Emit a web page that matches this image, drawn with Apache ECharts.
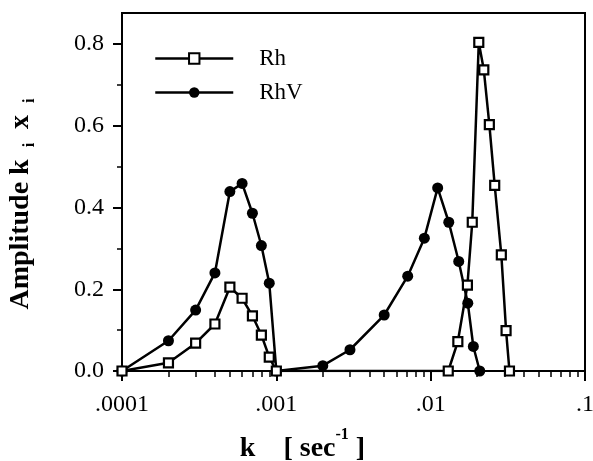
<!DOCTYPE html>
<html><head><meta charset="utf-8">
<script src="https://cdn.jsdelivr.net/npm/echarts@6/dist/echarts.min.js"></script>
<style>html,body{margin:0;padding:0;background:#fff}#c{width:593px;height:461px}</style>
</head><body><div id="c"></div>
<script>
// ---- data ----
const rhK   = [0.0001, 0.0002, 0.0003, 0.0004, 0.0005, 0.0006, 0.0007, 0.0008, 0.0009, 0.001,
               0.013, 0.015, 0.0173, 0.0186, 0.0205, 0.0221, 0.024, 0.026, 0.0287, 0.0308, 0.0324];
const rhAmp = [0, 0.02, 0.068, 0.115, 0.205, 0.178, 0.135, 0.088, 0.034, 0,
               0, 0.072, 0.21, 0.364, 0.804, 0.737, 0.603, 0.454, 0.284, 0.099, 0];
const rhvK   = [0.0001, 0.0002, 0.0003, 0.0004, 0.0005, 0.0006, 0.0007, 0.0008, 0.0009, 0.001,
                0.002, 0.003, 0.005, 0.0071, 0.0091, 0.0111, 0.0131, 0.0152, 0.0174, 0.0189, 0.0208];
const rhvAmp = [0, 0.074, 0.149, 0.24, 0.439, 0.459, 0.386, 0.307, 0.215, 0,
                0.013, 0.052, 0.137, 0.232, 0.325, 0.448, 0.364, 0.268, 0.166, 0.06, 0];
const seriesNames = ['Rh', 'RhV'];

const xMajorTicks  = [0.0001, 0.001, 0.01, 0.1];
const xMajorLabels = ['.0001', '.001', '.01', '.1'];
const xMinorTicks  = [0.0002, 0.0003, 0.0004, 0.0005, 0.0006, 0.0007, 0.0008, 0.0009,
                      0.002, 0.003, 0.004, 0.005, 0.006, 0.007, 0.008, 0.009,
                      0.02, 0.03, 0.04, 0.05, 0.06, 0.07, 0.08, 0.09];
const yMajorTicks  = [0, 0.2, 0.4, 0.6, 0.8];
const yMajorLabels = ['0.0', '0.2', '0.4', '0.6', '0.8'];
const yMinorTicks  = [0.1, 0.3, 0.5, 0.7];

// ---- chart ----
const FONT = 'Liberation Serif';
const pairs = (xs, ys) => xs.map((x, i) => [x, ys[i]]);
const xLabel = v => {
  const i = xMajorTicks.findIndex(t => Math.abs(Math.log10(t) - Math.log10(v)) < 1e-6);
  return i >= 0 ? xMajorLabels[i] : '';
};
const yLabel = v => {
  const i = yMajorTicks.findIndex(t => Math.abs(t - v) < 1e-6);
  return i >= 0 ? yMajorLabels[i] : '';
};

const chart = echarts.init(document.getElementById('c'), null, {renderer: 'canvas'});
chart.setOption({
  animation: false,
  backgroundColor: '#fff',
  grid: {left: 122, right: 8, top: 13, bottom: 90, containLabel: false, outerBoundsMode: 'none',
         show: true, borderColor: '#000', borderWidth: 2, backgroundColor: 'transparent'},
  legend: {
    orient: 'vertical', left: 154, top: 47, padding: 0,
    itemWidth: 78, itemHeight: 13, itemGap: 11,
    data: seriesNames,
    lineStyle: {width: 2.5},
    textStyle: {fontFamily: FONT, fontSize: 23, color: '#000', lineHeight: 22, padding: [0, 0, 0, 21]}
  },
  xAxis: [{
    type: 'log', logBase: 10, min: 0.0001, max: 0.1, position: 'bottom',
    axisLine: {show: true, lineStyle: {color: '#000', width: 2}},
    axisTick: {show: true, inside: false, length: 10, customValues: xMajorTicks, lineStyle: {color: '#000', width: 2}},
    axisLabel: {customValues: xMajorTicks, formatter: xLabel, fontFamily: FONT, fontSize: 24, color: '#000', margin: 22},
    splitLine: {show: false},
    name: '{a|k    [ sec}{p|-1}{a| ]}',
    nameLocation: 'middle', nameGap: 56,
    nameTextStyle: {
      padding: [0, 102, 0, 0],
      rich: {
        a: {fontFamily: FONT, fontWeight: 'bold', fontSize: 28, color: '#000', lineHeight: 44, verticalAlign: 'middle'},
        p: {fontFamily: FONT, fontWeight: 'bold', fontSize: 16, color: '#000', lineHeight: 16, verticalAlign: 'top'}
      }
    }
  }, {
    type: 'log', logBase: 10, min: 0.0001, max: 0.1, position: 'bottom',
    axisLine: {show: false},
    axisTick: {show: true, inside: false, length: 6, customValues: xMinorTicks, lineStyle: {color: '#000', width: 1.5}},
    axisLabel: {show: false},
    splitLine: {show: false}
  }],
  yAxis: [{
    type: 'value', min: 0, max: 0.876, position: 'left',
    axisLine: {show: true, lineStyle: {color: '#000', width: 2}},
    axisTick: {show: true, inside: false, length: 9, customValues: yMajorTicks, lineStyle: {color: '#000', width: 2}},
    axisLabel: {customValues: yMajorTicks, formatter: yLabel, fontFamily: FONT, fontSize: 24, color: '#000', margin: 18},
    splitLine: {show: false},
    name: '{a|Amplitude k}{s|   i}{a|  x}{s|   i}',
    nameLocation: 'middle', nameRotate: 90, nameGap: 84,
    nameTextStyle: {
      padding: [0, 24, 0, 0],
      rich: {
        a: {fontFamily: FONT, fontWeight: 'bold', fontSize: 28, color: '#000', lineHeight: 34, verticalAlign: 'middle'},
        s: {fontFamily: FONT, fontWeight: 'bold', fontSize: 16, color: '#000', lineHeight: 14, verticalAlign: 'bottom'}
      }
    }
  }, {
    type: 'value', min: 0, max: 0.876, position: 'left',
    axisLine: {show: false},
    axisTick: {show: true, inside: false, length: 5, customValues: yMinorTicks, lineStyle: {color: '#000', width: 1.5}},
    axisLabel: {show: false},
    splitLine: {show: false}
  }],
  series: [{
    name: seriesNames[0], type: 'line', xAxisIndex: 0, yAxisIndex: 0,
    data: pairs(rhK, rhAmp),
    symbol: 'rect', symbolSize: 9,
    lineStyle: {color: '#000', width: 2.5},
    itemStyle: {color: '#fff', borderColor: '#000', borderWidth: 2.2},
    z: 3
  }, {
    name: seriesNames[1], type: 'line', xAxisIndex: 0, yAxisIndex: 0,
    data: pairs(rhvK, rhvAmp),
    symbol: 'circle', symbolSize: 11,
    lineStyle: {color: '#000', width: 2.5},
    itemStyle: {color: '#000', borderColor: '#000', borderWidth: 0},
    z: 2
  }]
});
</script>
</body></html>
